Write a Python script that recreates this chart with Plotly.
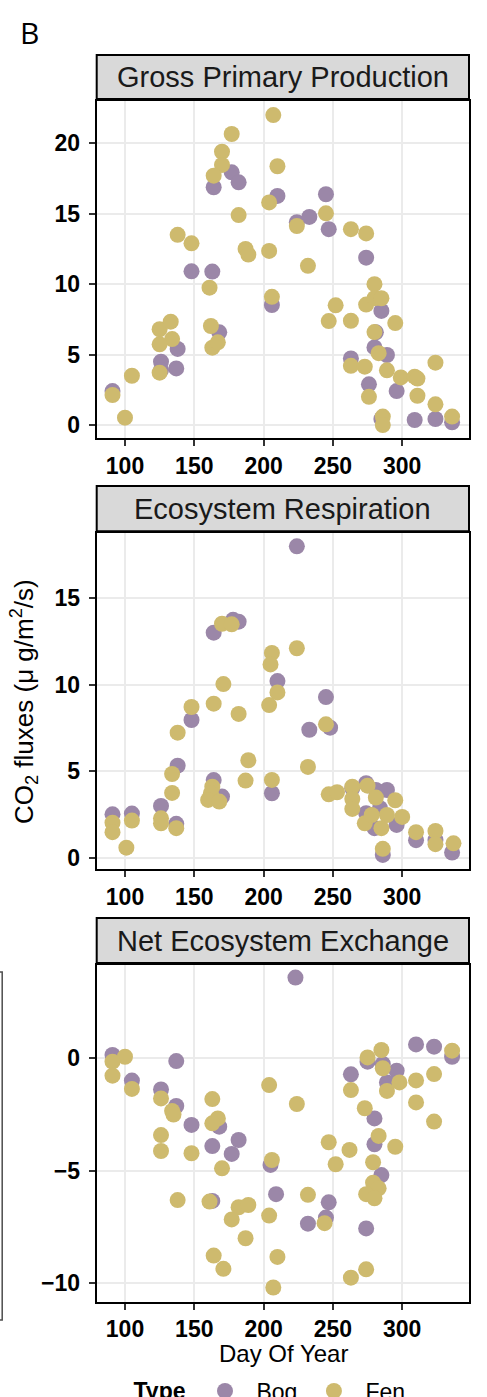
import plotly.graph_objects as go

# ---------------- data ----------------
gpp_bog_day = [177, 182, 164, 210, 245, 224, 233, 247, 274, 148, 163, 206, 285, 168, 281, 280, 289, 263,
               138, 126, 126, 137, 91, 276, 296, 285, 309, 324, 336]
gpp_bog_val = [17.94, 17.23, 16.88, 16.26, 16.38, 14.4, 14.77, 13.9, 11.88, 10.91, 10.89, 8.52, 8.1, 6.58,
               6.58, 5.51, 4.97, 4.73, 5.4, 4.5, 3.9, 4.02, 2.41, 2.89, 2.41, 0.43, 0.36, 0.43, 0.19]
gpp_fen_day = [207, 177, 170, 170, 164, 210, 204, 182, 245, 224, 263, 274, 138, 148, 187, 189, 204, 232,
               161, 280, 206, 274, 280, 285, 252, 247, 263, 295, 280, 125, 133, 134, 125, 162, 163, 167,
               105, 125, 91, 100, 263, 273, 283, 289, 299, 309, 311, 324, 276, 311, 324, 286, 286, 336]
gpp_fen_val = [22.0, 20.66, 19.4, 18.46, 17.7, 18.37, 15.8, 14.9, 15.03, 14.13, 13.9, 13.6, 13.5, 12.9,
               12.5, 12.1, 12.36, 11.3, 9.75, 10.0, 9.1, 8.55, 9.0, 9.0, 8.5, 7.38, 7.4, 7.24, 6.6, 6.8,
               7.34, 6.1, 5.73, 7.03, 5.49, 5.87, 3.5, 3.72, 2.13, 0.52, 4.2, 4.14, 5.1, 3.88, 3.38, 3.43,
               3.3, 4.43, 2.0, 2.08, 1.47, 0.6, 0.0, 0.6]

er_bog_day = [224, 178, 182, 164, 210, 245, 233, 248, 148, 138, 164, 170, 206, 264, 274, 281, 289, 126,
              91, 105, 137, 274, 284, 280, 296, 310, 324, 286, 336]
er_bog_val = [17.96, 13.73, 13.62, 12.99, 10.2, 9.28, 7.4, 7.52, 7.96, 5.33, 4.5, 3.55, 3.74, 4.03, 4.32,
              3.93, 3.93, 3.01, 2.53, 2.57, 1.98, 2.59, 2.88, 1.73, 1.92, 1.04, 1.05, 0.19, 0.33]
er_fen_day = [170, 177, 224, 206, 205, 210, 204, 171, 148, 164, 182, 138, 245, 189, 232, 134, 187, 206,
              134, 247, 253, 163, 162, 160, 168, 264, 264, 264, 275, 281, 295, 273, 278, 289, 300, 285,
              126, 126, 137, 91, 91, 105, 101, 310, 324, 324, 337, 286]
er_fen_val = [13.5, 13.47, 12.09, 11.82, 11.16, 9.55, 8.82, 10.03, 8.71, 8.9, 8.31, 7.23, 7.71, 5.64, 5.26,
              4.85, 4.47, 4.51, 3.76, 3.68, 3.8, 4.12, 3.74, 3.36, 3.26, 4.12, 3.41, 2.84, 4.18, 3.49,
              3.34, 2.01, 2.49, 2.49, 2.38, 1.73, 2.3, 2.01, 1.73, 2.05, 1.5, 2.17, 0.61, 1.5, 1.57,
              0.81, 0.86, 0.54]

nee_bog_day = [223, 91, 137, 105, 126, 137, 148, 168, 182, 163, 177, 205, 209, 163, 247, 245, 232, 274,
               263, 275, 286, 296, 289, 280, 280, 285, 310, 323, 336]
nee_bog_val = [3.59, 0.15, -0.12, -0.99, -1.38, -2.12, -2.96, -3.04, -3.63, -3.9, -4.25, -4.74, -6.04,
               -6.34, -6.4, -7.08, -7.35, -7.56, -0.71, -0.15, -0.25, -0.55, -1.07, -2.67, -3.82, -5.19,
               0.62, 0.52, 0.07]
nee_fen_day = [100, 91, 91, 105, 126, 134, 135, 126, 126, 148, 163, 167, 163, 170, 204, 224, 206, 138,
               161, 182, 189, 177, 204, 187, 164, 171, 210, 207, 232, 244, 247, 262, 252, 263, 273, 275,
               285, 286, 289, 298, 310, 310, 323, 323, 336, 283, 279, 295, 279, 283, 274, 280, 263, 274]
nee_fen_val = [0.07, -0.15, -0.77, -1.36, -1.78, -2.34, -2.5, -3.41, -4.12, -4.22, -1.81, -2.67, -2.89,
               -4.89, -1.19, -2.03, -4.52, -6.3, -6.37, -6.62, -6.52, -7.16, -6.99, -8.0, -8.77, -9.36,
               -8.83, -10.19, -6.07, -7.33, -3.73, -4.07, -4.71, -1.41, -2.22, 0.04, 0.37, -0.44, -1.45,
               -1.07, -0.98, -1.96, -0.7, -2.81, 0.34, -3.45, -4.62, -3.93, -5.53, -5.78, -6.04, -6.22,
               -9.75, -9.38]

panel_titles = ["Gross Primary Production", "Ecosystem Respiration", "Net Ecosystem Exchange"]
x_ticks = [100, 150, 200, 250, 300]
y_ticks = [[0, 5, 10, 15, 20], [0, 5, 10, 15], [-10, -5, 0]]
type_names = ["Bog", "Fen"]

# ---------------- styling / layout ----------------
W, H = 487, 1397
BOG_COL = "#9B87A8"
FEN_COL = "#CEBA6E"
FONT = "Liberation Sans, Arial, sans-serif"

px_left, px_right = 96.7, 469.0
panel_px = [(101, 438), (533.3, 869), (965, 1301.7)]
strip_px = [(55, 99), (486, 531.3), (918, 963)]
y_ranges = [[-0.92, 23.0], [-0.62, 18.71], [-10.82, 4.15]]
x_range = [79.6, 348.2]

def fx(p):
    return p / W

def fy(p):
    return 1 - p / H

panels = [
    (gpp_bog_day, gpp_bog_val, gpp_fen_day, gpp_fen_val),
    (er_bog_day, er_bog_val, er_fen_day, er_fen_val),
    (nee_bog_day, nee_bog_val, nee_fen_day, nee_fen_val),
]

SP = "\u2002"
fig = go.Figure()
for i, (bd, bv, fd, fv) in enumerate(panels):
    xa = "x" if i == 0 else f"x{i+1}"
    ya = "y" if i == 0 else f"y{i+1}"
    fig.add_trace(go.Scatter(x=bd, y=bv, mode="markers", name=SP + type_names[0] + SP, legendgroup="bog",
                             showlegend=(i == 0), xaxis=xa, yaxis=ya,
                             marker=dict(color=BOG_COL, size=16, line=dict(width=0))))
    fig.add_trace(go.Scatter(x=fd, y=fv, mode="markers", name=SP + type_names[1], legendgroup="fen",
                             showlegend=(i == 0), xaxis=xa, yaxis=ya,
                             marker=dict(color=FEN_COL, size=16, line=dict(width=0))))

tickfont = dict(family=FONT, size=23, color="black", weight="bold")
common = dict(showline=True, linecolor="black", linewidth=2, mirror=True,
              showgrid=True, gridcolor="#EBEBEB", gridwidth=1.5, zeroline=False,
              ticks="outside", ticklen=6, tickwidth=1.5, tickcolor="#333333",
              tickfont=tickfont)

layout_axes = {}
for i in range(3):
    sfx = "" if i == 0 else str(i + 1)
    top, bot = panel_px[i]
    layout_axes[f"xaxis{sfx}"] = dict(common, domain=[fx(px_left), fx(px_right)], range=x_range,
                                      tickvals=x_ticks, anchor=f"y{sfx}")
    layout_axes[f"yaxis{sfx}"] = dict(common, domain=[fy(bot), fy(top)], range=y_ranges[i],
                                      tickvals=y_ticks[i], anchor=f"x{sfx}", ticklabelstandoff=4)

shapes = []
annotations = []
for i in range(3):
    st, sb = strip_px[i]
    shapes.append(dict(type="rect", xref="paper", yref="paper", x0=fx(px_left), x1=fx(px_right),
                       y0=fy(sb), y1=fy(st), fillcolor="#D9D9D9", line=dict(color="black", width=2),
                       layer="above"))
    annotations.append(dict(text=panel_titles[i], xref="paper", yref="paper",
                            x=fx((px_left + px_right) / 2), y=fy((st + sb) / 2),
                            xanchor="center", yanchor="middle", showarrow=False,
                            font=dict(family=FONT, size=29, color="#1A1A1A")))

# fragment of a neighbouring panel at the left edge
shapes.append(dict(type="rect", xref="paper", yref="paper", x0=-0.03, x1=fx(2.2),
                   y0=fy(1320), y1=fy(972), line=dict(color="#4D4D4D", width=1.5)))

annotations.append(dict(text="CO<sub>2</sub> fluxes (μ g/m<sup>2</sup>/s)", xref="paper", yref="paper",
                        x=fx(24), y=fy(702), textangle=-90, showarrow=False,
                        xanchor="center", yanchor="middle",
                        font=dict(family=FONT, size=26, color="black")))
annotations.append(dict(text="Day Of Year", xref="paper", yref="paper",
                        x=fx(283), y=fy(1353), showarrow=False, xanchor="center", yanchor="middle",
                        font=dict(family=FONT, size=24, color="black")))
annotations.append(dict(text="B", xref="paper", yref="paper", x=fx(29), y=fy(33), showarrow=False,
                        xanchor="center", yanchor="middle",
                        font=dict(family="Open Sans, Lato, sans-serif", size=30, color="black")))

fig.update_layout(
    width=W, height=H,
    margin=dict(l=0, r=0, t=0, b=0, autoexpand=False),
    paper_bgcolor="white", plot_bgcolor="white",
    showlegend=True,
    legend=dict(orientation="h", x=fx(271), xanchor="center", y=fy(1391), yanchor="middle",
                title=dict(text="<b>Type</b>" + SP, font=dict(family=FONT, size=23, color="black")),
                font=dict(family=FONT, size=23, color="black"), bgcolor="rgba(0,0,0,0)"),
    shapes=shapes, annotations=annotations,
    **layout_axes,
)

fig.write_html("out.html", config={"displayModeBar": False},
               post_script="document.body.style.margin='0';document.body.style.overflow='hidden';")
